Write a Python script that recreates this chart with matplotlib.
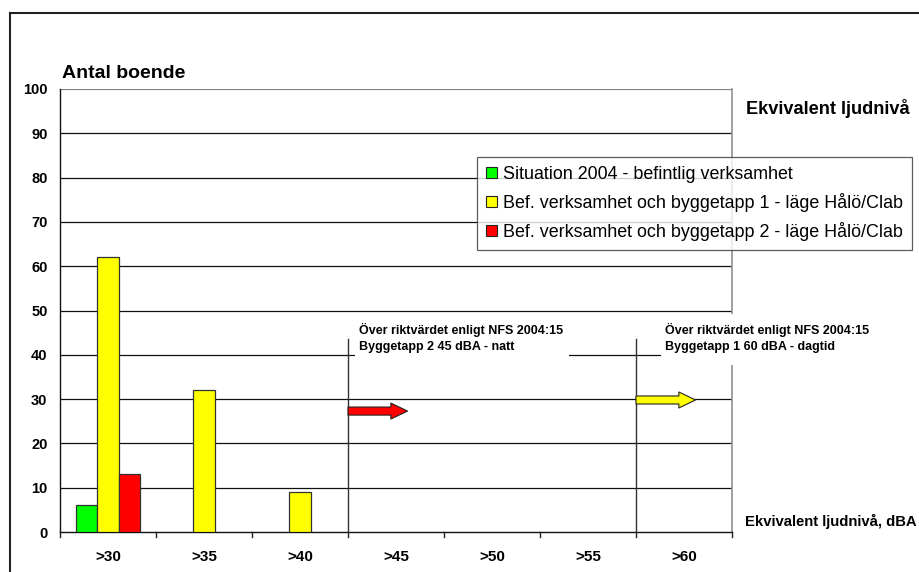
import matplotlib
matplotlib.use("Agg")
import matplotlib.pyplot as plt
from matplotlib.patches import Rectangle, FancyArrowPatch
from matplotlib.lines import Line2D
import numpy as np

plt.rcParams['font.family'] = ['Liberation Sans', 'DejaVu Sans']

# Noise level classes (dBA) and number of residents per scenario
categories = [">30", ">35", ">40", ">45", ">50", ">55", ">60"]
situation_2004 = [6, 0, 0, 0, 0, 0, 0]
etapp1 = [62, 32, 9, 0, 0, 0, 0]
etapp2 = [13, 0, 0, 0, 0, 0, 0]
series_labels = [
    "Situation 2004 - befintlig verksamhet",
    "Bef. verksamhet och byggetapp 1 - läge Hålö/Clab",
    "Bef. verksamhet och byggetapp 2 - läge Hålö/Clab",
]
series_colors = ["#00FF00", "#FFFF00", "#FF0000"]
y_ticks = [0, 10, 20, 30, 40, 50, 60, 70, 80, 90, 100]

# Guideline markers (NFS 2004:15): boundary position, marker height, arrow level
limit_night_x, limit_day_x = 2.5, 5.5
limit_line_top = 43.5
arrow_night_y, arrow_day_y = 27.3, 29.8
arrow_len = 0.62

fig = plt.figure(figsize=(9.2, 5.72), dpi=100)
ax = fig.add_axes([60 / 920, 1 - 532 / 572, 672 / 920, 443 / 572])

x = np.arange(len(categories))
bw = 0.224
for i, (vals, col) in enumerate(zip([situation_2004, etapp1, etapp2], series_colors)):
    offs = (i - 1) * bw
    for xi, v in zip(x, vals):
        if v > 0:
            ax.bar(xi + offs, v, width=bw, color=col, edgecolor="#333333",
                   linewidth=0.9, zorder=3)

ax.set_xlim(-0.5, len(categories) - 0.5)
ax.set_ylim(0, 100)
ax.set_yticks(y_ticks)
ax.set_yticklabels([str(t) for t in y_ticks], fontsize=10.5, fontweight="bold")
ax.set_xticks(x)
ax.set_xticklabels(categories, fontsize=11, fontweight="bold")
ax.tick_params(axis="x", length=0, pad=13)
ax.tick_params(axis="y", length=0, pad=9)
# category boundary tick marks
for b in np.arange(-0.5, len(categories), 1.0):
    ax.plot([b, b], [0, -1.2], color="#222222", lw=1, clip_on=False, zorder=4)

for t in y_ticks[1:-1]:
    ax.axhline(t, color="#111111", lw=0.9, zorder=1)
ax.axhline(100, color="#808080", lw=1.6, zorder=1)
ax.spines["top"].set_visible(False)
ax.spines["right"].set_color("#909090")
ax.spines["right"].set_linewidth(1.2)
ax.spines["left"].set_color("#111111")
ax.spines["bottom"].set_color("#111111")
ax.spines["left"].set_linewidth(1.0)
ax.spines["bottom"].set_linewidth(1.0)

# threshold lines
for lx in [limit_night_x, limit_day_x]:
    ax.plot([lx, lx], [0, limit_line_top], color="#333333", lw=1.0, zorder=2)

# arrows
for ax_x, ay, col in [(limit_night_x, arrow_night_y, "#FF0000"),
                      (limit_day_x, arrow_day_y, "#FFFF00")]:
    arr = FancyArrowPatch((ax_x, ay), (ax_x + arrow_len, ay),
                          arrowstyle="simple,head_width=11.5,head_length=12,tail_width=5.8",
                          mutation_scale=1, shrinkA=0, shrinkB=0,
                          facecolor=col, edgecolor="#222222", lw=0.8, zorder=5)
    ax.add_patch(arr)

# annotation boxes
boxes = [
    (2.573, 38.8, 2.23, 10.6, "Över riktvärdet enligt NFS 2004:15\nByggetapp 2 45 dBA - natt"),
    (5.76, 37.6, 2.5, 11.5, "Över riktvärdet enligt NFS 2004:15\nByggetapp 1 60 dBA - dagtid"),
]
for bx, by, bwid, bh, txt in boxes:
    ax.add_patch(Rectangle((bx, by), bwid, bh, facecolor="white", edgecolor="none",
                           zorder=6, clip_on=False))
ax.text(2.573 + 0.04, 43.9, boxes[0][4], fontsize=9, fontweight="bold",
        va="center", ha="left", linespacing=1.45, zorder=7, clip_on=False)
ax.text(5.76 + 0.04, 43.9, boxes[1][4], fontsize=9, fontweight="bold",
        va="center", ha="left", linespacing=1.45, zorder=7, clip_on=False)

# legend
handles = [Rectangle((0, 0), 1, 1, facecolor=c, edgecolor="#222222", lw=0.8)
           for c in series_colors]
leg = ax.legend(handles, series_labels, loc="upper left",
                bbox_to_anchor=(477 / 920, 1 - 157 / 572), bbox_transform=fig.transFigure,
                fontsize=12.9, frameon=True, fancybox=False, edgecolor="#333333",
                handlelength=0.6, handleheight=0.6, handletextpad=0.35,
                borderpad=0.5, labelspacing=0.56, borderaxespad=0)
leg.get_frame().set_linewidth(0.9)
leg.set_zorder(8)

fig.text(62 / 920, 1 - 74 / 572, "Antal boende", fontsize=14, fontweight="bold",
         va="center", ha="left")
fig.text(746 / 920, 1 - 109 / 572, "Ekvivalent ljudnivå", fontsize=13.1,
         fontweight="bold", va="center", ha="left")
fig.text(745 / 920, 1 - 521 / 572, "Ekvivalent ljudnivå, dBA", fontsize=10.75,
         fontweight="bold", va="center", ha="left")

# outer chart frame
fig.add_artist(Line2D([10 / 920, 10 / 920], [0, 1 - 13 / 572], transform=fig.transFigure,
                      color="#222222", lw=1.5))
fig.add_artist(Line2D([10 / 920, 1], [1 - 13 / 572, 1 - 13 / 572], transform=fig.transFigure,
                      color="#222222", lw=1.5))

fig.savefig("out.png", dpi=100)
